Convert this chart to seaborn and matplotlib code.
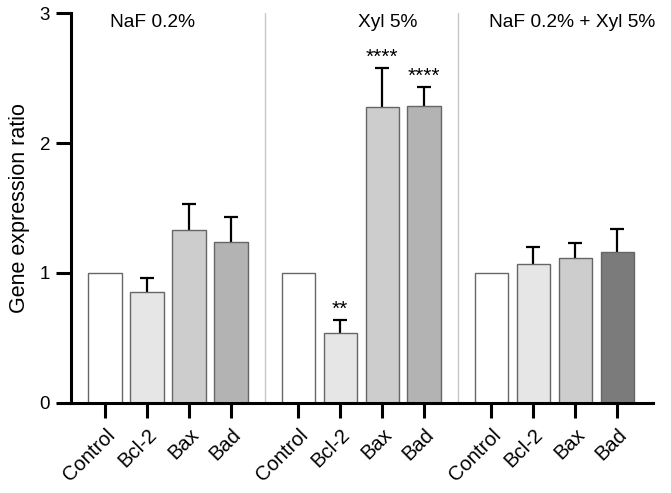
import numpy as np
import pandas as pd
import matplotlib
matplotlib.use("Agg")
import matplotlib.pyplot as plt
import seaborn as sns

# data
genes = ["Control", "Bcl-2", "Bax", "Bad"]
groups = ["NaF 0.2%", "Xyl 5%", "NaF 0.2% + Xyl 5%"]
ratio_naf = [1.0, 0.85, 1.33, 1.235]
ratio_xyl = [1.0, 0.54, 2.28, 2.285]
ratio_both = [1.0, 1.067, 1.113, 1.164]
sd_naf = [0.0, 0.114, 0.198, 0.195]
sd_xyl = [0.0, 0.098, 0.294, 0.145]
sd_both = [0.0, 0.135, 0.12, 0.177]
stars_xyl = ["", "**", "****", "****"]

colors_std = ["#ffffff", "#e6e6e6", "#cdcdcd", "#b3b3b3"]
colors_both = ["#ffffff", "#e6e6e6", "#cdcdcd", "#7b7b7b"]

# x positions with a gap between the three treatment groups
offsets = [0.0, 4.6, 9.2]
rows = []
for g, off, vals, sds in zip(groups, offsets, [ratio_naf, ratio_xyl, ratio_both],
                             [sd_naf, sd_xyl, sd_both]):
    for i, gene in enumerate(genes):
        rows.append({"group": g, "gene": gene, "pos": off + i, "ratio": vals[i], "sd": sds[i]})
df = pd.DataFrame(rows)
palette = colors_std + colors_std + colors_both

sns.set_style("ticks", {"axes.edgecolor": "black", "text.color": "black",
                        "xtick.color": "black", "ytick.color": "black",
                        "axes.labelcolor": "black"})
plt.rcParams["font.family"] = ["Liberation Sans", "DejaVu Sans"]

fig = plt.figure(figsize=(6.71, 4.93), dpi=100)
ax = fig.add_axes([0.1058, 0.1826, 0.8672, 0.791])

sns.barplot(data=df, x="pos", y="ratio", hue="pos", palette=palette, native_scale=True,
            width=0.79, edgecolor="#666666", linewidth=1.0, legend=False, ax=ax)
for p in ax.patches:
    p.set_zorder(2)

# SD bars (lower half hidden behind the bars)
err = df[df["sd"] > 0]
ax.errorbar(err["pos"], err["ratio"], yerr=err["sd"], fmt="none",
            ecolor="black", elinewidth=1.6, capsize=5, capthick=1.6, zorder=1.5)

# significance marks on the Xyl group
for i, s in enumerate(stars_xyl):
    if s:
        top = ratio_xyl[i] + sd_xyl[i]
        ax.text(offsets[1] + i, top + 0.01, s, ha="center", va="bottom", fontsize=15)

# separators and group titles
for xs in [3.8, 8.4]:
    ax.axvline(xs, color="#c8c8c8", linewidth=1.0, zorder=0)
for x, g in zip([1.12, 6.74, 11.12], groups):
    ax.text(x, 2.93, g, ha="center", va="center", fontsize=13.8)

ax.set_xlim(-0.81, 13.05)
ax.set_ylim(0, 3)
ax.set_yticks([0, 1, 2, 3])
ax.set_xticks(df["pos"])
ax.set_xticklabels(genes * 3, rotation=45, ha="right", rotation_mode="anchor", fontsize=14.5)
ax.tick_params(axis="y", labelsize=13.5, length=11, width=2.2, direction="out", pad=4)
ax.tick_params(axis="x", length=11, width=2.2, direction="out", pad=5)
ax.set_xlabel("")
ax.set_ylabel("Gene expression ratio", fontsize=15.5, labelpad=7)

sns.despine(ax=ax)
for side in ["left", "bottom"]:
    ax.spines[side].set_linewidth(2.2)

fig.savefig("out.png", dpi=100)
